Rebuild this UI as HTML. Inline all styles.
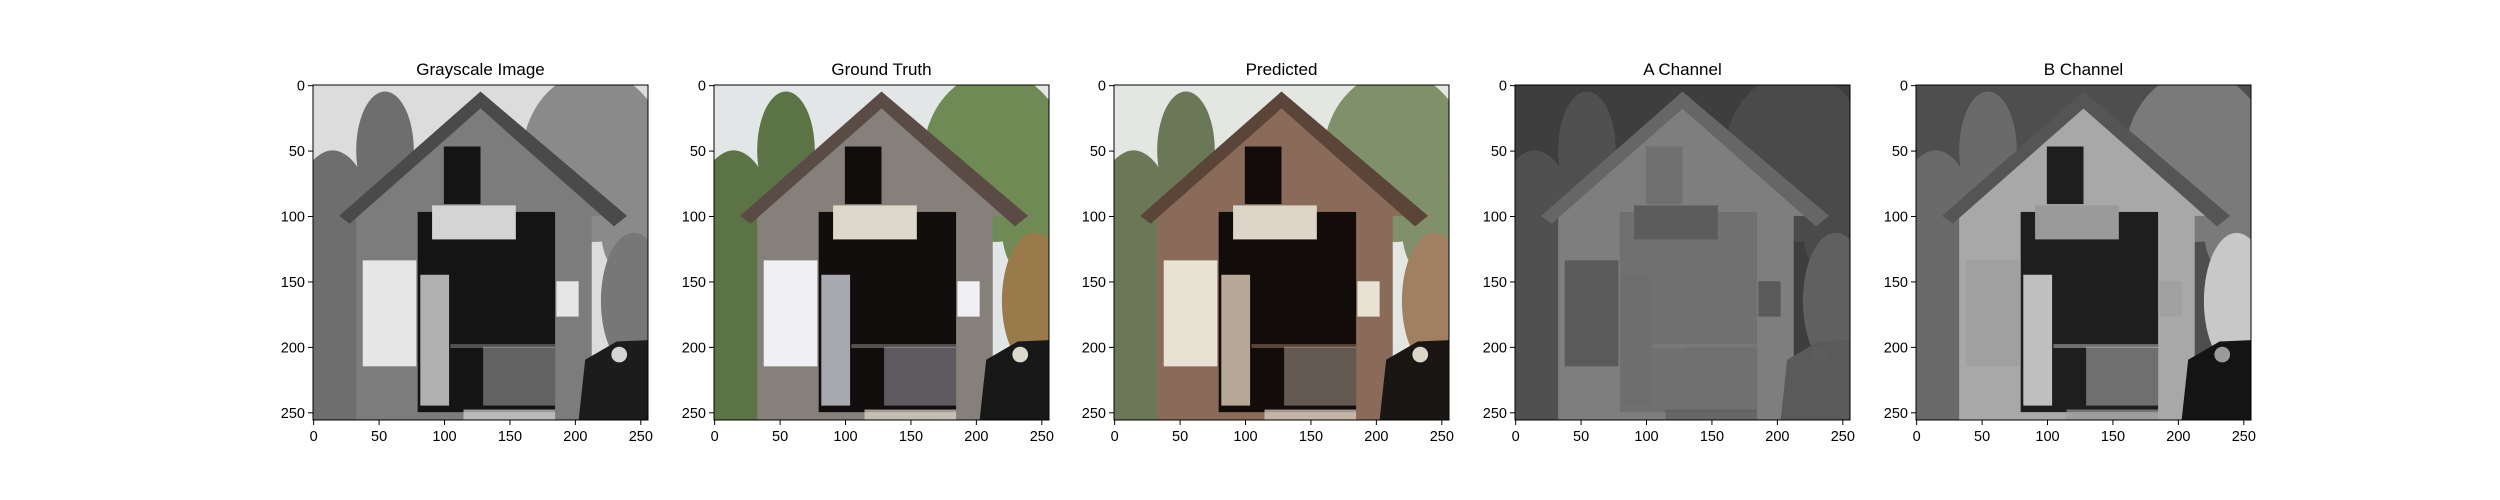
<!DOCTYPE html>
<html><head><meta charset="utf-8">
<style>
html,body{margin:0;padding:0;background:#fff;}
svg{display:block;font-family:"Liberation Sans","DejaVu Sans",sans-serif;}
</style></head>
<body>
<svg id="fig" width="2500" height="500" viewBox="0 0 2500 500" xmlns="http://www.w3.org/2000/svg">
<defs><clipPath id="imgclip"><rect x="0" y="0" width="256" height="256"/></clipPath></defs>
</svg>
<script>
const titles = ["Grayscale Image","Ground Truth","Predicted","A Channel","B Channel"];
const tickValues = [0,50,100,150,200,250];
const imgSize = 256;
const palettes = [
 {sky:"#dcdcdc",treeL:"#6e6e6e",treeR:"#8a8a8a",wall:"#7c7c7c",roof:"#4a4a4a",dark:"#141414",sign:"#d4d4d4",poster:"#e6e6e6",person:"#b0b0b0",hair:"#777",body:"#1c1c1c",ground:"#555"},
 {sky:"#e2e6e6",treeL:"#5c7346",treeR:"#6f8a55",wall:"#86807a",roof:"#5a4c44",dark:"#120e0e",sign:"#ddd8cc",poster:"#f0f0f4",person:"#a8a8b0",hair:"#9a7a4a",body:"#181818",ground:"#5a6a40"},
 {sky:"#e4e6e2",treeL:"#6b7858",treeR:"#80906a",wall:"#8a6a58",roof:"#5a4538",dark:"#120c0a",sign:"#ddd6c8",poster:"#e8e2d4",person:"#b8a898",hair:"#a08060",body:"#1a1614",ground:"#6a6448"},
 {sky:"#3e3e3e",treeL:"#505050",treeR:"#4a4a4a",wall:"#7e7e7e",roof:"#666",dark:"#707070",sign:"#5c5c5c",poster:"#5a5a5a",person:"#6e6e6e",hair:"#606060",body:"#5a5a5a",ground:"#6a6a6a"},
 {sky:"#4e4e4e",treeL:"#6a6a6a",treeR:"#7a7a7a",wall:"#a8a8a8",roof:"#555",dark:"#1e1e1e",sign:"#9a9a9a",poster:"#a0a0a0",person:"#c0c0c0",hair:"#c8c8c8",body:"#141414",ground:"#6a6a6a"}
];
const panelLeft = [313,714,1114,1515,1916];
const panelTop = 85, panelW = 335, panelH = 335;
const NS="http://www.w3.org/2000/svg";
const fig=document.getElementById('fig');
function mk(tag,attrs,parent){const e=document.createElementNS(NS,tag);for(const k in attrs)e.setAttribute(k,attrs[k]);parent.appendChild(e);return e;}

titles.forEach((t,i)=>{
 const x0=panelLeft[i], s=panelW/imgSize, P=palettes[i];
 const g=mk('g',{},fig);
 
 
 const outer=mk('g',{transform:`translate(${x0},${panelTop}) scale(${s})`},g);
 const img=mk('g',{"clip-path":"url(#imgclip)"},outer);
 
 
 mk('rect',{x:0,y:0,width:256,height:256,fill:P.sky},img);
 mk('ellipse',{cx:15,cy:130,rx:35,ry:80,fill:P.treeL},img);
 mk('ellipse',{cx:55,cy:50,rx:22,ry:45,fill:P.treeL},img);
 mk('ellipse',{cx:215,cy:55,rx:55,ry:65,fill:P.treeR},img);
 mk('ellipse',{cx:245,cy:110,rx:25,ry:40,fill:P.treeR},img);
 mk('rect',{x:0,y:180,width:40,height:76,fill:P.treeL},img);
 mk('polygon',{points:"128,18 32,100 222,100",fill:P.wall},img);
 mk('rect',{x:33,y:98,width:180,height:158,fill:P.wall},img);
 mk('polygon',{points:"128,5 20,100 28,106 128,18 230,108 240,100",fill:P.roof},img);
 mk('rect',{x:100,y:47,width:28,height:44,fill:P.dark},img);
 mk('rect',{x:80,y:97,width:105,height:153,fill:P.dark},img);
 mk('rect',{x:105,y:198,width:80,height:3,fill:P.wall,opacity:0.6},img);
 mk('rect',{x:91,y:92,width:64,height:26,fill:P.sign},img);
 mk('rect',{x:38,y:134,width:41,height:81,fill:P.poster},img);
 mk('rect',{x:186,y:150,width:17,height:27,fill:P.poster},img);
 mk('rect',{x:82,y:145,width:22,height:100,fill:P.person},img);
 mk('rect',{x:130,y:200,width:55,height:45,fill:P.person,opacity:0.5},img);
 mk('rect',{x:115,y:248,width:70,height:8,fill:P.sign,opacity:0.7},img);
 mk('ellipse',{cx:245,cy:165,rx:25,ry:52,fill:P.hair},img);
 mk('polygon',{points:"203,256 208,210 232,196 256,195 256,256",fill:P.body},img);
 mk('circle',{cx:234,cy:206,r:6,fill:P.sign},img);
 mk('rect',{x:0,y:0,width:256,height:256,fill:"none",stroke:"#000","stroke-width":1/s},outer);
 const tt=mk('text',{x:x0+panelW/2,y:panelTop-10,"text-anchor":"middle","font-size":17,fill:"#000"},g);
 tt.textContent=t;
 
 
 tickValues.forEach(v=>{
  const px=x0+(v+0.5)*s, py=panelTop+(v+0.5)*s;
  mk('line',{x1:px,y1:panelTop+panelH,x2:px,y2:panelTop+panelH+5,stroke:"#000","stroke-width":1},g);
  const xl=mk('text',{x:px,y:panelTop+panelH+21,"text-anchor":"middle","font-size":14.5,fill:"#000"},g);
  xl.textContent=v;
  
  
  mk('line',{x1:x0-5,y1:py,x2:x0,y2:py,stroke:"#000","stroke-width":1},g);
  const yl=mk('text',{x:x0-8,y:py+5,"text-anchor":"end","font-size":14.5,fill:"#000"},g);
  yl.textContent=v;
  
  
 });
});
</script>
</body></html>
